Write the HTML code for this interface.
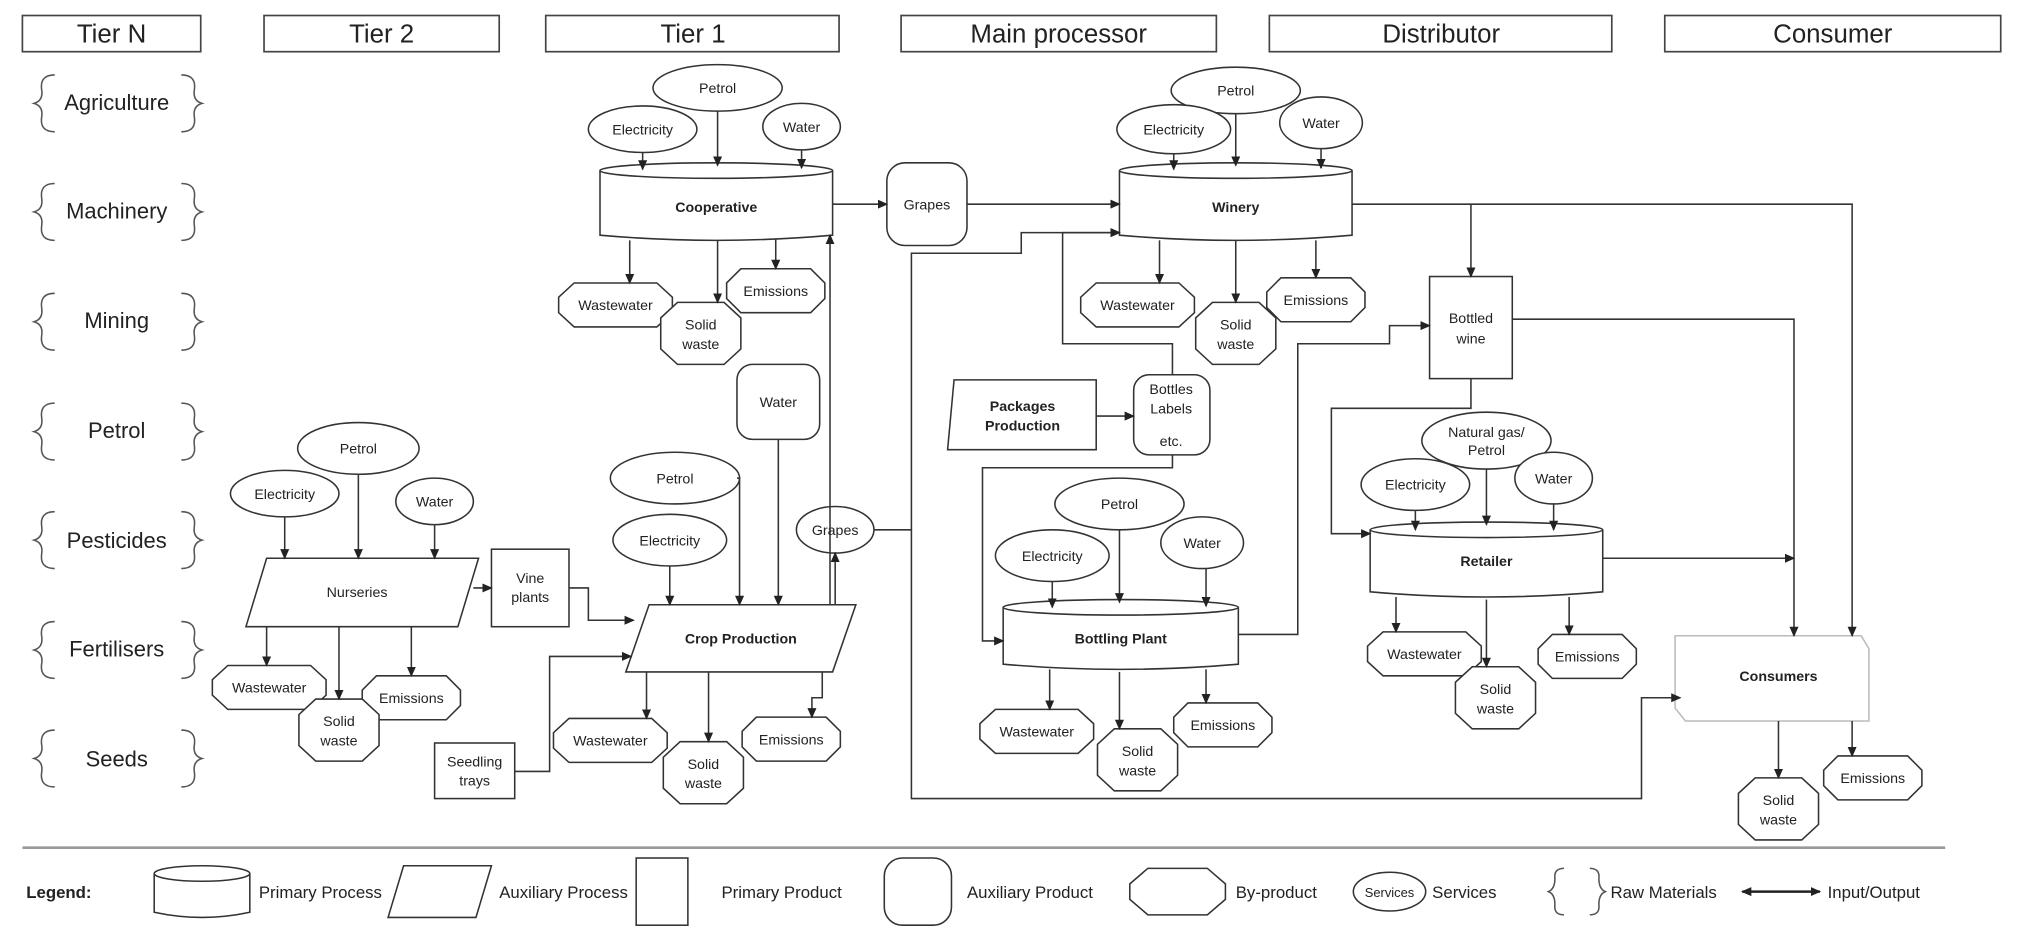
<!DOCTYPE html>
<html><head><meta charset="utf-8"><style>
html,body{margin:0;padding:0;background:#fff}
svg{display:block}
text{font-family:"Liberation Sans",sans-serif;fill:#222}
.s{font-size:11px}
.b{font-size:11px;font-weight:bold}
.h{font-size:20px}
.r{font-size:17px}
.lg{font-size:13px}
</style></head><body>
<svg width="2027" height="942" viewBox="0 0 1568 729" xmlns="http://www.w3.org/2000/svg">
<defs><marker id="a" markerWidth="8" markerHeight="8" refX="7" refY="4" orient="auto" markerUnits="userSpaceOnUse"><path d="M0,0.5 L8,4 L0,7.5z" fill="#222"/></marker>
<marker id="as" markerWidth="8" markerHeight="8" refX="1" refY="4" orient="auto" markerUnits="userSpaceOnUse"><path d="M8,0.5 L0,4 L8,7.5z" fill="#222"/></marker>
<path id="sw" d="M-18,-24 H18 L31,-12 V12 L18,24 H-18 L-31,12 V-12Z"/>
<g id="brs">
<path d="M42,58 Q30,58 32,70 Q33,78 26,80 Q33,82 32,90 Q30,102 42,102"/>
<path d="M140,58 Q152,58 150,70 Q149,78 156,80 Q149,82 150,90 Q152,102 140,102"/>
</g>
</defs>
<g fill="#fff" stroke="#444" stroke-width="1.3">
<rect x="17" y="12" width="138" height="28"/><rect x="204" y="12" width="182" height="28"/><rect x="422" y="12" width="227" height="28"/><rect x="697" y="12" width="244" height="28"/><rect x="982" y="12" width="265" height="28"/><rect x="1288" y="12" width="260" height="28"/>
</g>
<g text-anchor="middle" class="h"><text x="86" y="33">Tier N</text><text x="295" y="33">Tier 2</text><text x="536" y="33">Tier 1</text><text x="819" y="33">Main processor</text><text x="1115" y="33">Distributor</text><text x="1418" y="33">Consumer</text></g>
<g fill="none" stroke="#555" stroke-width="1.2">
<use href="#brs"/><use href="#brs" y="84"/><use href="#brs" y="169"/><use href="#brs" y="254"/><use href="#brs" y="338"/><use href="#brs" y="423"/><use href="#brs" y="507"/>
</g>
<g text-anchor="middle" class="r"><text x="90" y="85">Agriculture</text><text x="90" y="169">Machinery</text><text x="90" y="254">Mining</text><text x="90" y="339">Petrol</text><text x="90" y="424">Pesticides</text><text x="90" y="508">Fertilisers</text><text x="90" y="593">Seeds</text></g>

<g fill="none" stroke="#333" stroke-width="1.2">
<path d="M464,132 V182 Q554,190 644,182 V132" fill="#fff"/><ellipse cx="554" cy="132" rx="90" ry="6" fill="#fff"/>
<path d="M866,132 V182 Q956,190 1046,182 V132" fill="#fff"/><ellipse cx="956" cy="132" rx="90" ry="6" fill="#fff"/>
<path d="M1060,410 V458 Q1150,466 1240,458 V410" fill="#fff"/><ellipse cx="1150" cy="410" rx="90" ry="6" fill="#fff"/>
<path d="M776,470 V514 Q867,522 958,514 V470" fill="#fff"/><ellipse cx="867" cy="470" rx="91" ry="6" fill="#fff"/>
<path d="M206,432 H370 L354,485 H190Z" fill="#fff"/>
<path d="M502,468 H662 L644,520 H484Z" fill="#fff"/>
<path d="M738,294 H848 V348 H733Z" fill="#fff"/>
<rect x="380" y="425" width="60" height="60" fill="#fff"/>
<rect x="336" y="575" width="62" height="43" fill="#fff"/>
<rect x="1106" y="214" width="64" height="79" fill="#fff"/>
<rect x="686" y="126" width="62" height="64" rx="14" fill="#fff"/>
<rect x="570" y="282" width="64" height="58" rx="12" fill="#fff"/>
<rect x="877" y="290" width="59" height="62" rx="12" fill="#fff"/>
<path d="M1296,492 H1440 L1446,502 V558 H1304 L1296,548Z" fill="#fff" stroke="#bbb"/>
<ellipse cx="555" cy="68" rx="50" ry="18" fill="#fff"/><ellipse cx="497" cy="100" rx="42" ry="18" fill="#fff"/><ellipse cx="620" cy="98" rx="30" ry="18" fill="#fff"/>
<ellipse cx="956" cy="70" rx="50" ry="18" fill="#fff"/><ellipse cx="908" cy="100" rx="44" ry="19" fill="#fff"/><ellipse cx="1022" cy="95" rx="32" ry="20" fill="#fff"/>
<ellipse cx="1150" cy="341" rx="50" ry="22" fill="#fff"/><ellipse cx="1095" cy="375" rx="42" ry="20" fill="#fff"/><ellipse cx="1202" cy="370" rx="30" ry="20" fill="#fff"/>
<ellipse cx="866" cy="390" rx="50" ry="20" fill="#fff"/><ellipse cx="814" cy="430" rx="44" ry="20" fill="#fff"/><ellipse cx="930" cy="420" rx="32" ry="20" fill="#fff"/>
<ellipse cx="522" cy="370" rx="50" ry="20" fill="#fff"/><ellipse cx="518" cy="418" rx="44" ry="20" fill="#fff"/>
<ellipse cx="277" cy="347" rx="47" ry="20" fill="#fff"/><ellipse cx="220" cy="382" rx="42" ry="18" fill="#fff"/><ellipse cx="336" cy="388" rx="30" ry="18" fill="#fff"/>
<ellipse cx="646" cy="410" rx="30" ry="18" fill="#fff"/>
</g>
<g fill="#fff" stroke="#333" stroke-width="1.2">
<path d="M-32,-17 H32 L44,-6 V6 L32,17 H-32 L-44,6 V-6Z" transform="translate(476,236)"/>
<path d="M-32,-17 H32 L44,-6 V6 L32,17 H-32 L-44,6 V-6Z" transform="translate(880,236)"/>
<path d="M-32,-17 H32 L44,-6 V6 L32,17 H-32 L-44,6 V-6Z" transform="translate(1102,506)"/>
<path d="M-32,-17 H32 L44,-6 V6 L32,17 H-32 L-44,6 V-6Z" transform="translate(802,566)"/>
<path d="M-32,-17 H32 L44,-6 V6 L32,17 H-32 L-44,6 V-6Z" transform="translate(472,573)"/>
<path d="M-32,-17 H32 L44,-6 V6 L32,17 H-32 L-44,6 V-6Z" transform="translate(208,532)"/>
<path d="M-27,-17 H27 L38,-6 V6 L27,17 H-27 L-38,6 V-6Z" transform="translate(600,225)"/>
<path d="M-27,-17 H27 L38,-6 V6 L27,17 H-27 L-38,6 V-6Z" transform="translate(1018,232)"/>
<path d="M-27,-17 H27 L38,-6 V6 L27,17 H-27 L-38,6 V-6Z" transform="translate(1228,508)"/>
<path d="M-27,-17 H27 L38,-6 V6 L27,17 H-27 L-38,6 V-6Z" transform="translate(946,561)"/>
<path d="M-27,-17 H27 L38,-6 V6 L27,17 H-27 L-38,6 V-6Z" transform="translate(612,572)"/>
<path d="M-27,-17 H27 L38,-6 V6 L27,17 H-27 L-38,6 V-6Z" transform="translate(318,540)"/>
<path d="M-27,-17 H27 L38,-6 V6 L27,17 H-27 L-38,6 V-6Z" transform="translate(1449,602)"/>
<use href="#sw" x="542" y="258"/><use href="#sw" x="956" y="258"/><use href="#sw" x="1157" y="540"/><use href="#sw" x="880" y="588"/><use href="#sw" x="544" y="598"/><use href="#sw" x="262" y="565"/><use href="#sw" x="1376" y="626"/>
</g>
<g fill="none" stroke="#333" stroke-width="1.2" marker-end="url(#a)">
<path d="M497,118 V131"/><path d="M555,86 V128"/><path d="M620,116 V130"/>
<path d="M487,186 V219"/><path d="M555,186 V234"/><path d="M600,185 V208"/>
<path d="M644,158 H686"/><path d="M748,158 H866"/>
<path d="M908,119 V131"/><path d="M956,88 V128"/><path d="M1022,115 V130"/>
<path d="M897,186 V219"/><path d="M956,186 V234"/><path d="M1018,186 V215"/>
<path d="M1046,158 H1433 V492"/><path d="M1138,158 V214"/>
<path d="M1170,247 H1388 V492"/><path d="M1240,432 H1388"/>
<path d="M1138,293 V316 H1030 V413 H1060"/>
<path d="M1095,395 V410"/><path d="M1150,363 V406"/><path d="M1202,390 V410"/>
<path d="M1080,462 V489"/><path d="M1150,464 V516"/><path d="M1214,462 V491"/>
<path d="M1376,558 V602"/><path d="M1433,558 V585"/>
<path d="M814,450 V470"/><path d="M866,410 V466"/><path d="M933,440 V469"/>
<path d="M812,518 V549"/><path d="M866,520 V564"/><path d="M933,518 V544"/>
<path d="M958,491 H1004 V266 H1075 V252 H1106"/>
<path d="M848,322 H877"/>
<path d="M907,290 V266 H822 V180 H866"/>
<path d="M907,352 V362 H760 V496 H776"/>
<path d="M676,410 H705 V196 H790 V180 H866"/>
<path d="M705,410 V618 H1270 V540 H1300"/>
<path d="M642,468 V182"/><path d="M646,468 V428"/>
<path d="M602,340 V468"/><path d="M570,370 H572 V468"/><path d="M518,438 V468"/>
<path d="M500,520 V556"/><path d="M548,520 V574"/><path d="M636,520 V540 H628 V555"/>
<path d="M366,455 H380"/><path d="M440,455 H455 V480 H490"/>
<path d="M398,597 H425 V508 H488"/>
<path d="M220,400 V432"/><path d="M277,367 V432"/><path d="M336,406 V432"/>
<path d="M206,485 V515"/><path d="M262,485 V541"/><path d="M318,485 V523"/>
</g>
<g text-anchor="middle" class="s">
<text x="555" y="72">Petrol</text><text x="497" y="104">Electricity</text><text x="620" y="102">Water</text>
<text x="956" y="74">Petrol</text><text x="908" y="104">Electricity</text><text x="1022" y="99">Water</text>
<text x="1150" y="338">Natural gas/</text><text x="1150" y="352">Petrol</text><text x="1095" y="379">Electricity</text><text x="1202" y="374">Water</text>
<text x="866" y="394">Petrol</text><text x="814" y="434">Electricity</text><text x="930" y="424">Water</text>
<text x="522" y="374">Petrol</text><text x="518" y="422">Electricity</text><text x="602" y="315">Water</text>
<text x="277" y="351">Petrol</text><text x="220" y="386">Electricity</text><text x="336" y="392">Water</text>
<text x="646" y="414">Grapes</text><text x="717" y="162">Grapes</text>
<text x="410" y="451">Vine</text><text x="410" y="466">plants</text>
<text x="367" y="593">Seedling</text><text x="367" y="608">trays</text>
<text x="1138" y="250">Bottled</text><text x="1138" y="266">wine</text>
<text x="906" y="305">Bottles</text><text x="906" y="320">Labels</text><text x="906" y="345">etc.</text>
<text x="276" y="462">Nurseries</text>
<text x="476" y="240">Wastewater</text><text x="880" y="240">Wastewater</text><text x="1102" y="510">Wastewater</text><text x="802" y="570">Wastewater</text><text x="472" y="577">Wastewater</text><text x="208" y="536">Wastewater</text>
<text x="600" y="229">Emissions</text><text x="1018" y="236">Emissions</text><text x="1228" y="512">Emissions</text><text x="946" y="565">Emissions</text><text x="612" y="576">Emissions</text><text x="318" y="544">Emissions</text><text x="1449" y="606">Emissions</text>
<text x="542" y="255">Solid</text><text x="542" y="270">waste</text><text x="956" y="255">Solid</text><text x="956" y="270">waste</text><text x="1157" y="537">Solid</text><text x="1157" y="552">waste</text><text x="880" y="585">Solid</text><text x="880" y="600">waste</text><text x="544" y="595">Solid</text><text x="544" y="610">waste</text><text x="262" y="562">Solid</text><text x="262" y="577">waste</text><text x="1376" y="623">Solid</text><text x="1376" y="638">waste</text>
</g>
<g text-anchor="middle" class="b">
<text x="554" y="164">Cooperative</text><text x="956" y="164">Winery</text><text x="1150" y="438">Retailer</text><text x="867" y="498">Bottling Plant</text><text x="573" y="498">Crop Production</text><text x="1376" y="527">Consumers</text>
<text x="791" y="318">Packages</text><text x="791" y="333">Production</text>
</g>
<line x1="17" y1="656" x2="1505" y2="656" stroke="#999" stroke-width="2"/>
<g fill="#fff" stroke="#333" stroke-width="1.2">
<path d="M119,676 V706 Q156,714 193,706 V676"/><ellipse cx="156" cy="676" rx="37" ry="6"/>
<path d="M312,670 H380 L368,710 H300Z"/>
<rect x="492" y="664" width="40" height="52"/>
<rect x="684" y="664" width="52" height="52" rx="14"/>
<path d="M888,672 H934 L948,684 V696 L934,708 H888 L874,696 V684Z"/>
<ellipse cx="1075" cy="690" rx="28" ry="15"/>
</g>
<g fill="none" stroke="#555" stroke-width="1.2">
<path d="M1210,672 Q1202,672 1203,680 Q1203,688 1198,690 Q1203,692 1203,700 Q1202,708 1210,708"/>
<path d="M1230,672 Q1238,672 1237,680 Q1237,688 1242,690 Q1237,692 1237,700 Q1238,708 1230,708"/>
</g>
<line x1="1348" y1="690" x2="1408" y2="690" stroke="#222" stroke-width="2" marker-end="url(#a)" marker-start="url(#as)"/>
<g class="lg">
<text x="20" y="695" font-weight="bold">Legend:</text>
<text x="200" y="695">Primary Process</text>
<text x="386" y="695">Auxiliary Process</text>
<text x="558" y="695">Primary Product</text>
<text x="748" y="695">Auxiliary Product</text>
<text x="956" y="695">By-product</text>
<text x="1075" y="694" text-anchor="middle" font-size="10">Services</text>
<text x="1108" y="695">Services</text>
<text x="1246" y="695">Raw Materials</text>
<text x="1414" y="695">Input/Output</text>
</g>
</svg>
</body></html>
